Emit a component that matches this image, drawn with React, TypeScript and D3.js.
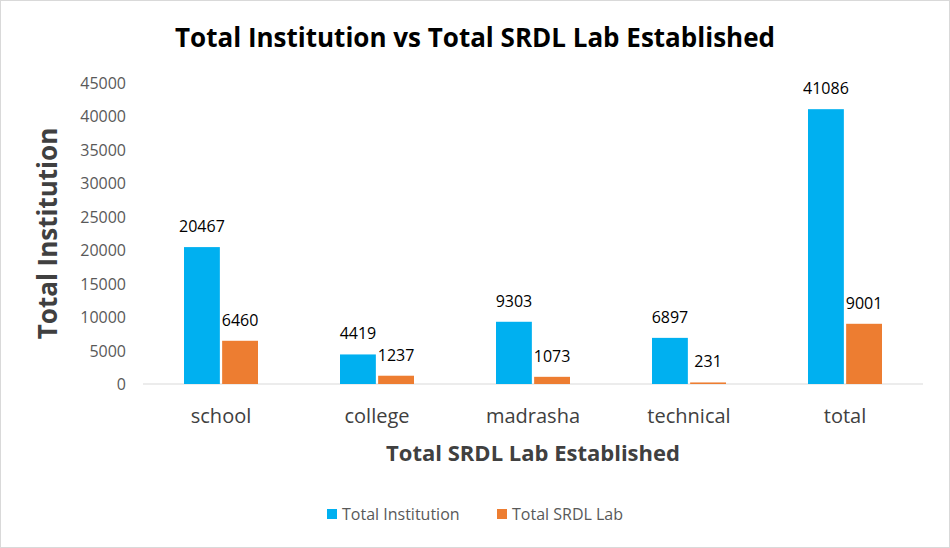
import * as d3 from 'd3';
import { useEffect } from 'react';

const categories = ['school', 'college', 'madrasha', 'technical', 'total'];
const institutions = [20467, 4419, 9303, 6897, 41086];
const srdlLabs = [6460, 1237, 1073, 231, 9001];
const yTicks = [0, 5000, 10000, 15000, 20000, 25000, 30000, 35000, 40000, 45000];
const seriesNames = ['Total Institution', 'Total SRDL Lab'];
const colors = ['#00b0f0', '#ed7d31'];

const W = 950;
const H = 548;
const font = "'Open Sans', 'Liberation Sans', sans-serif";

export default function App() {
  useEffect(() => {
    document.body.style.margin = '0';
  }, []);

  const x = d3.scaleBand<string>().domain(categories).range([143, 923]);
  const inner = d3.scaleBand<number>().domain([0, 1]).range([0, 74]).paddingInner(0.06);
  const y = d3.scaleLinear().domain([0, 45000]).range([384, 83]);
  const series = [institutions, srdlLabs];

  return (
    <svg width={W} height={H} style={{ display: 'block', fontFamily: font }}>
      <rect x={0.5} y={0.5} width={W - 1} height={H - 1} fill="#fff" stroke="#d9d9d9" />
      <text x={475} y={47} textAnchor="middle" fontSize={26} fontWeight="bold" fill="#000">
        Total Institution vs Total SRDL Lab Established
      </text>
      {yTicks.map((t) => (
        <text key={t} x={126} y={y(t) + 6} textAnchor="end" fontSize={16} fill="#595959">
          {t}
        </text>
      ))}
      <line x1={143} x2={923} y1={y(0)} y2={y(0)} stroke="#d9d9d9" />
      {categories.map((c, i) => {
        const cx = x(c)! + x.bandwidth() / 2;
        return (
          <g key={c}>
            {series.map((s, j) => {
              const bx = cx - 37 + inner(j)!;
              return (
                <g key={j}>
                  <rect x={bx} y={y(s[i])} width={inner.bandwidth()} height={y(0) - y(s[i])} fill={colors[j]} />
                  <text x={bx + inner.bandwidth() / 2} y={y(s[i]) - 15} textAnchor="middle" fontSize={16} fill="#000">
                    {s[i]}
                  </text>
                </g>
              );
            })}
            <text x={cx} y={423} textAnchor="middle" fontSize={20} fill="#404040">
              {c}
            </text>
          </g>
        );
      })}
      <text x={533} y={461} textAnchor="middle" fontSize={22} fontWeight="bold" fill="#404040">
        Total SRDL Lab Established
      </text>
      <text
        transform={`translate(57,${y(22500)}) rotate(-90)`}
        textAnchor="middle"
        fontSize={26}
        fontWeight="bold"
        fill="#404040"
      >
        Total Institution
      </text>
      {seriesNames.map((n, j) => {
        const lx = j === 0 ? 327 : 497;
        return (
          <g key={n}>
            <rect x={lx} y={509} width={10} height={10} fill={colors[j]} />
            <text x={lx + 15} y={520} fontSize={16} fill="#595959">
              {n}
            </text>
          </g>
        );
      })}
    </svg>
  );
}
